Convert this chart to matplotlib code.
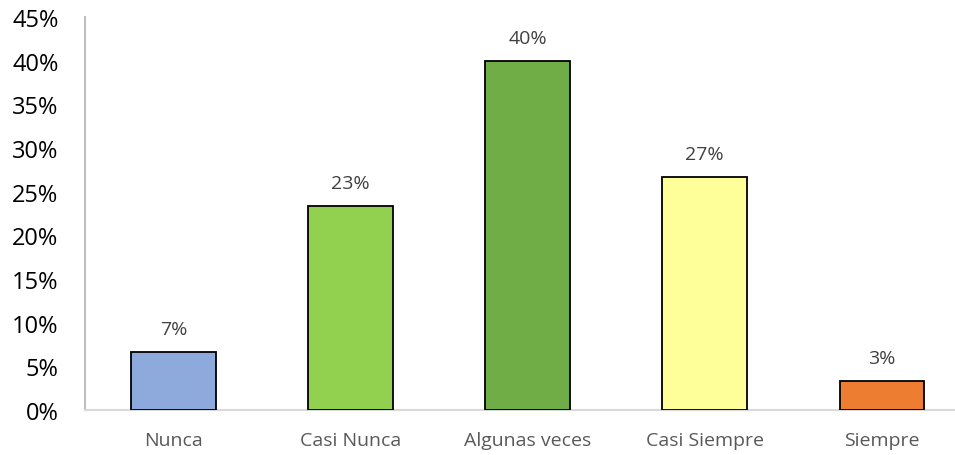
import matplotlib
matplotlib.use('Agg')
import matplotlib.pyplot as plt
from matplotlib.ticker import PercentFormatter

plt.rcParams['font.family'] = ['Open Sans', 'DejaVu Sans']

# datos
categorias = ['Nunca', 'Casi Nunca', 'Algunas veces', 'Casi Siempre', 'Siempre']
porcentajes = [6.67, 23.33, 40.0, 26.67, 3.33]
etiquetas = ['7%', '23%', '40%', '27%', '3%']
colores = ['#8EA9DB', '#92D050', '#70AD47', '#FFFF99', '#ED7D31']

fig = plt.figure(figsize=(9.55, 4.56), dpi=100)
ax = fig.add_axes([85 / 955, 45 / 456, 870 / 955, 393 / 456])

x = range(len(categorias))
ax.bar(x, porcentajes, width=0.475, color=colores, edgecolor='black', linewidth=1.3, zorder=3)

for i, v in enumerate(porcentajes):
    ax.text(i, v + 1.6, etiquetas[i], ha='center', va='bottom', fontsize=14, color='#404040')

ax.set_xlim(-0.5, 4.415)
ax.set_ylim(0, 45)
ax.set_yticks(range(0, 46, 5))
ax.yaxis.set_major_formatter(PercentFormatter(decimals=0))
ax.set_xticks(list(x))
ax.set_xticklabels(categorias, fontsize=14, color='#595959')
ax.tick_params(axis='y', labelsize=17, colors='black', length=0, pad=19)
ax.tick_params(axis='x', length=0, pad=15)

for s in ['top', 'right']:
    ax.spines[s].set_visible(False)
ax.spines['left'].set_color('#BFBFBF')
ax.spines['left'].set_linewidth(1.5)
ax.spines['bottom'].set_color('#D9D9D9')
ax.spines['bottom'].set_linewidth(1.5)

fig.savefig('out.png', dpi=100)
